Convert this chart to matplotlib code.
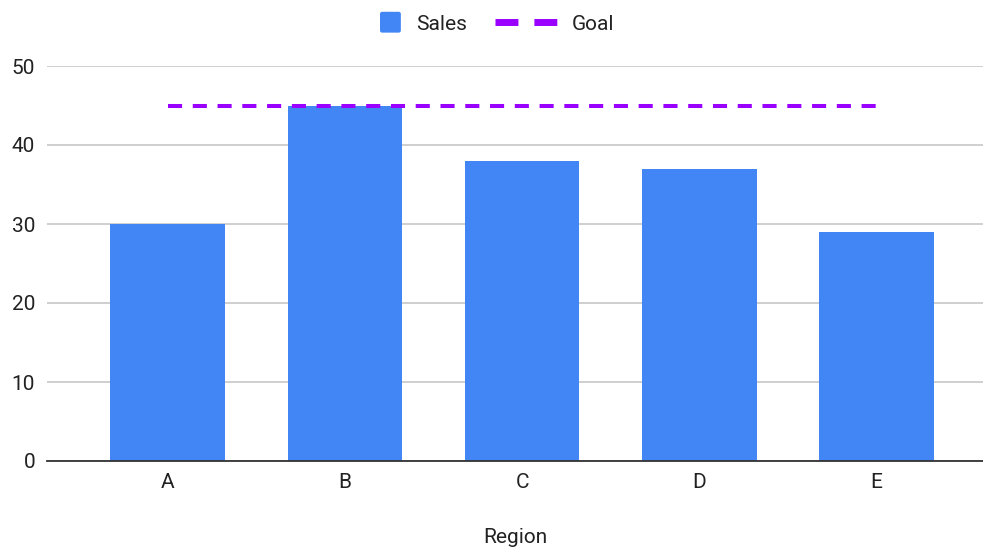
import matplotlib
matplotlib.use("Agg")
import matplotlib.pyplot as plt
from matplotlib.patches import Patch, FancyBboxPatch
from matplotlib.lines import Line2D
from matplotlib.legend_handler import HandlerBase

regions = ["A", "B", "C", "D", "E"]
sales = [30, 45, 38, 37, 29]
goal = [45, 45, 45, 45, 45]
y_ticks = [0, 10, 20, 30, 40, 50]

bar_color = "#4285F4"
goal_color = "#9900FF"
text_color = "#222222"
fs = 15

plt.rcParams["font.family"] = ["Roboto", "DejaVu Sans"]


class SquareHandler(HandlerBase):
    # rounded square, drawn at the right end of the handle box
    def create_artists(self, legend, orig_handle, xdescent, ydescent,
                       width, height, fontsize, trans):
        s = 15.0
        x0 = -xdescent + width - s
        y0 = -ydescent + (height - s) / 2
        p = FancyBboxPatch((x0 + 1.5, y0 + 1.5), s - 3, s - 3,
                           boxstyle="round,pad=1.5",
                           facecolor=orig_handle.get_facecolor(),
                           edgecolor="none", transform=trans)
        return [p]


fig = plt.figure(figsize=(9.83, 5.49), dpi=100)
ax = fig.add_axes([47 / 983, 1 - 461 / 549, 1 - 47 / 983, (461 - 66) / 549])

x = list(range(len(regions)))
ax.bar(x, sales, width=0.645, color=bar_color, zorder=2)
ax.plot(x, goal, color=goal_color, linewidth=2.9, dashes=(3.5, 2.65), zorder=3)

ax.set_xlim(-0.68, 4.6)
ax.set_ylim(0, 50)
ax.set_yticks(y_ticks)
ax.set_xticks(x)
ax.set_xticklabels(regions)
ax.grid(axis="y", color="#cccccc", linewidth=1.3, zorder=0)
ax.set_axisbelow(True)
for side in ["top", "right", "left"]:
    ax.spines[side].set_visible(False)
ax.spines["bottom"].set_color("#333333")
ax.spines["bottom"].set_linewidth(1.3)
ax.spines["bottom"].set_zorder(4)
ax.tick_params(axis="both", length=0, labelsize=fs, colors=text_color)
ax.tick_params(axis="y", pad=8.6)
ax.tick_params(axis="x", pad=8.5)
ax.set_xlabel("Region", fontsize=fs, color=text_color)
ax.xaxis.set_label_coords(0.5, -0.17)

handles = [
    Patch(facecolor=bar_color),
    Line2D([0], [0], color=goal_color, linewidth=5, dashes=(3.3, 2.3)),
]
fig.legend(handles, ["Sales", "Goal"], loc="center",
           bbox_to_anchor=(476.5 / 983, 1 - 24 / 549),
           ncol=2, frameon=False, fontsize=fs, handlelength=2.97,
           handletextpad=0.72, columnspacing=1.34, labelcolor=text_color,
           handler_map={Patch: SquareHandler()})

fig.savefig("out.png", dpi=100)
